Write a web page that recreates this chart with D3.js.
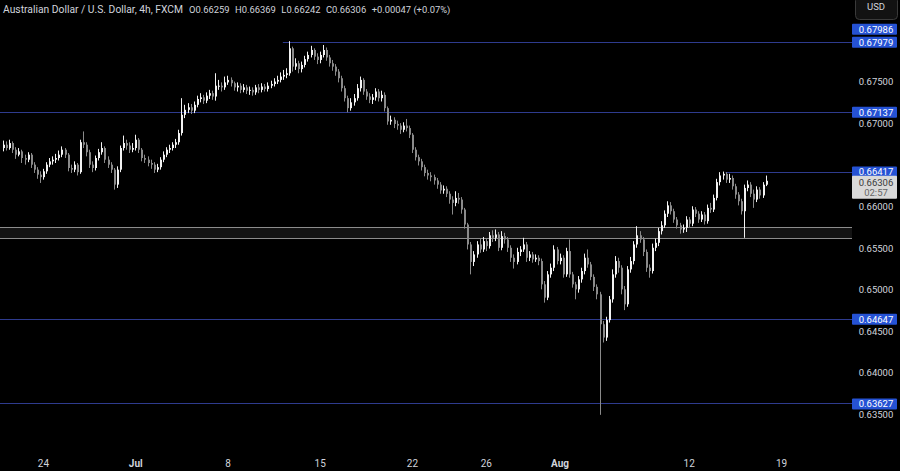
<!DOCTYPE html>
<html><head><meta charset="utf-8">
<script src="https://cdn.jsdelivr.net/npm/d3@7"></script>
<style>html,body{margin:0;padding:0;background:#000;overflow:hidden}svg{display:block}</style>
</head><body><svg id="c" width="900" height="471"></svg>
<script>
// ---- data (AUD/USD 4h candles) ----
const firstOpen = 0.6670;
const closes = [
0.6674,0.6670,0.6676,0.6668,0.6662,0.6666,0.6658,0.6656,0.6662,0.6650,
0.6644,0.6638,0.6635,0.6642,0.6650,0.6654,0.6656,0.6658,0.6662,0.6668,
0.6662,0.6646,0.6644,0.6650,0.6641,0.6677,0.6674,0.6665,0.6650,0.6646,
0.6658,0.6665,0.6670,0.6656,0.6650,0.6644,0.6626,0.6644,0.6670,0.6676,
0.6673,0.6668,0.6670,0.6680,0.6668,0.6658,0.6656,0.6652,0.6650,0.6644,
0.6647,0.6656,0.6662,0.6668,0.6670,0.6674,0.6677,0.6688,0.6710,0.6716,
0.6719,0.6715,0.6722,0.6729,0.6731,0.6727,0.6733,0.6736,0.6732,0.6745,
0.6745,0.6743,0.6749,0.6752,0.6748,0.6743,0.6745,0.6740,0.6743,0.6739,
0.6740,0.6737,0.6743,0.6740,0.6744,0.6741,0.6745,0.6747,0.6750,0.6752,
0.6756,0.6758,0.6760,0.6790,0.6768,0.6772,0.6765,0.6770,0.6777,0.6782,
0.6788,0.6780,0.6776,0.6782,0.6788,0.6779,0.6772,0.6768,0.6762,0.6754,
0.6742,0.6730,0.6718,0.6725,0.6730,0.6742,0.6752,0.6738,0.6732,0.6728,
0.6731,0.6738,0.6730,0.6734,0.6718,0.6702,0.6704,0.6699,0.6697,0.6692,
0.6697,0.6694,0.6686,0.6668,0.6659,0.6654,0.6647,0.6640,0.6637,0.6635,
0.6631,0.6626,0.6619,0.6621,0.6615,0.6608,0.6604,0.6610,0.6608,0.6596,
0.6578,0.6554,0.6533,0.6542,0.6554,0.6548,0.6558,0.6552,0.6565,0.6562,
0.6566,0.6550,0.6564,0.6560,0.6550,0.6538,0.6533,0.6545,0.6548,0.6554,
0.6538,0.6542,0.6536,0.6538,0.6534,0.6506,0.6490,0.6518,0.6526,0.6548,
0.6534,0.6538,0.6518,0.6546,0.6518,0.6506,0.6500,0.6512,0.6522,0.6538,
0.6530,0.6515,0.6503,0.6494,0.6458,0.6442,0.6463,0.6488,0.6518,0.6534,
0.6526,0.6500,0.6482,0.6524,0.6534,0.6554,0.6565,0.6560,0.6545,0.6526,
0.6522,0.6550,0.6556,0.6570,0.6577,0.6591,0.6601,0.6594,0.6584,0.6577,
0.6572,0.6574,0.6584,0.6579,0.6596,0.6591,0.6584,0.6590,0.6582,0.6598,
0.6596,0.6610,0.6629,0.6637,0.6639,0.6632,0.6634,0.6624,0.6614,0.6606,
0.6594,0.6622,0.6626,0.6615,0.6608,0.6620,0.6613,0.66259,0.66306];
const highs = [
.6679,.6678,.6680,.6678,.6671,.6670,.6668,.6662,.6665,.6664,
.6653,.6647,.6642,.6645,.6653,.6658,.6660,.6663,.6667,.6672,
.6670,.6664,.6650,.6654,.6652,.6680,.6690,.6677,.6668,.6654,
.6661,.6669,.6677,.6672,.6660,.6653,.6646,.6648,.6673,.6685,
.6680,.6677,.6676,.6686,.6682,.6670,.6662,.6660,.6656,.6653,
.6651,.6659,.6666,.6671,.6674,.6677,.6681,.6692,.6730,.6722,
.6724,.6723,.6726,.6733,.6736,.6734,.6737,.6740,.6739,.6760,
.6752,.6749,.6756,.6757,.6755,.6750,.6749,.6748,.6747,.6746,
.6744,.6743,.6746,.6747,.6748,.6747,.6749,.6751,.6754,.6757,
.6761,.6764,.6766,.67986,.6792,.6778,.6775,.6774,.6781,.6786,
.6793,.6790,.6784,.6786,.6794,.6791,.6782,.6776,.6771,.6765,
.6757,.6745,.6733,.6730,.6735,.6747,.6756,.6754,.6741,.6736,
.6735,.6742,.6741,.6739,.6737,.6720,.6709,.6707,.6703,.6700,
.6701,.6705,.6697,.6688,.6671,.6662,.6657,.6650,.6644,.6641,
.6638,.6634,.6629,.6625,.6624,.6618,.6612,.6618,.6616,.6611,
.6598,.6580,.6557,.6546,.6558,.6561,.6563,.6561,.6569,.6571,
.6572,.6569,.6570,.6568,.6563,.6553,.6542,.6550,.6552,.6562,
.6557,.6546,.6545,.6542,.6541,.6537,.6510,.6522,.6531,.6553,
.6551,.6543,.6541,.6550,.6560,.6521,.6509,.6516,.6526,.6543,
.6548,.6533,.6518,.6506,.6497,.6462,.6467,.6492,.6524,.6540,
.6538,.6529,.6504,.6528,.6539,.6558,.6576,.6570,.6563,.6548,
.6530,.6555,.6561,.6574,.6582,.6595,.6606,.6605,.6597,.6587,
.6580,.6578,.6588,.6587,.6600,.6599,.6594,.6594,.6593,.6602,
.6604,.6614,.6633,.6641,.66417,.6641,.6639,.6637,.6627,.6617,
.6609,.6626,.6631,.6629,.6620,.6624,.6623,.6629,.66369];
const lows = [
.6666,.6667,.6668,.6664,.6657,.6660,.6652,.6650,.6653,.6646,
.6640,.6633,.6628,.6632,.6639,.6647,.6650,.6652,.6655,.6659,
.6658,.6642,.6640,.6641,.6637,.6639,.6670,.6660,.6646,.6641,
.6643,.6655,.6662,.6652,.6646,.6640,.6620,.6622,.6641,.6667,
.6668,.6664,.6665,.6667,.6664,.6654,.6652,.6648,.6645,.6640,
.6641,.6644,.6653,.6659,.6664,.6667,.6670,.6674,.6685,.6706,
.6712,.6711,.6712,.6719,.6725,.6723,.6724,.6729,.6728,.6727,
.6740,.6738,.6740,.6746,.6744,.6739,.6738,.6736,.6737,.6735,
.6734,.6733,.6734,.6736,.6737,.6738,.6738,.6742,.6744,.6747,
.6749,.6752,.6754,.6757,.6762,.6764,.6760,.6761,.6767,.6774,
.6779,.6776,.6771,.6772,.6779,.6775,.6768,.6763,.6757,.6749,
.6738,.6726,.6713,.6715,.6721,.6727,.6738,.6734,.6728,.6724,
.6723,.6727,.6726,.6726,.6714,.6698,.6698,.6694,.6692,.6687,
.6689,.6690,.6682,.6664,.6655,.6649,.6643,.6636,.6632,.6630,
.6626,.6621,.6615,.6615,.6611,.6603,.6590,.6600,.6603,.6591,
.6573,.6548,.6518,.6528,.6538,.6544,.6545,.6546,.6549,.6557,
.6558,.6546,.6547,.6555,.6545,.6533,.6525,.6530,.6540,.6545,
.6533,.6534,.6532,.6533,.6529,.6500,.6484,.6487,.6514,.6522,
.6530,.6530,.6514,.6515,.6514,.6502,.6488,.6496,.6508,.6518,
.6526,.6511,.6498,.6488,.6349,.6436,.6438,.6460,.6484,.6514,
.6520,.6494,.6475,.6479,.6520,.6530,.6550,.6556,.6540,.6521,
.6514,.6519,.6546,.6552,.6566,.6574,.6587,.6590,.6580,.6573,
.6567,.6568,.6569,.6574,.6576,.6587,.6580,.6581,.6578,.6579,
.6592,.6593,.6607,.6625,.6632,.6628,.6628,.6620,.6609,.6601,
.6590,.6562,.6618,.6611,.6598,.6605,.6609,.6610,.66242];

const dateTickIndex = [13, 43, 73, 103, 133, 157, 181, 223, 253];
const dateTickLabels = ["24", "Jul", "8", "15", "22", "26", "Aug", "12", "19"];
const priceTicks = [0.675, 0.670, 0.660, 0.655, 0.650, 0.645, 0.640, 0.635];
const levelValues = [0.67979, 0.67137, 0.66417, 0.64647, 0.63627];
const levelStartIndex = [91, null, 235, null, null];
const extraHighLabel = 0.67986;
const zoneBounds = [0.65616, 0.65744];
const lastPrice = 0.66306;
const countdown = "02:57";
const titleText = "Australian Dollar / U.S. Dollar, 4h, FXCM";
const ohlcText = ["O0.66259", "H0.66369", "L0.66242", "C0.66306", "+0.00047 (+0.07%)"];

// ---- drawing ----
const W = 900, H = 471, plotRight = 852;
const svg = d3.select("#c");
const FONT = "Roboto, 'Open Sans', sans-serif";
const TXT = "#d1d4dc";

const candles = closes.map((c, i) => ({ i, o: i === 0 ? firstOpen : closes[i - 1], h: highs[i], l: lows[i], c }));

const x = d3.scaleLinear().domain([0, 253]).range([3, 781]);
const y = d3.scaleLinear().domain([0.635, 0.68]).range([414, 40]);
const fmt = d3.format(".5f");

svg.append("rect").attr("width", W).attr("height", H).attr("fill", "#000");

const plot = svg.append("g");

// zone rectangle
plot.append("rect")
  .attr("x", 0).attr("width", plotRight)
  .attr("y", y(zoneBounds[1])).attr("height", y(zoneBounds[0]) - y(zoneBounds[1]))
  .attr("fill", "#131313").attr("stroke", "none");
zoneBounds.forEach(v => {
  plot.append("line").attr("x1", 0).attr("x2", plotRight)
    .attr("y1", Math.round(y(v)) + 0.5).attr("y2", Math.round(y(v)) + 0.5)
    .attr("stroke", "#8c8c8c").attr("stroke-width", 1);
});

// horizontal levels
levelValues.forEach((v, k) => {
  const sx = levelStartIndex[k] == null ? 0 : x(levelStartIndex[k]);
  plot.append("line").attr("x1", sx).attr("x2", plotRight)
    .attr("y1", Math.round(y(v)) + 0.5).attr("y2", Math.round(y(v)) + 0.5)
    .attr("stroke", "#2e3b8e").attr("stroke-width", 1);
});

// candles
const UP = "#f2f2f2", DOWN = "#8a8a8a";
const cg = plot.append("g");
cg.selectAll("line.w").data(candles).join("line")
  .attr("class", "w")
  .attr("x1", d => Math.round(x(d.i)) + 0.5).attr("x2", d => Math.round(x(d.i)) + 0.5)
  .attr("y1", d => y(d.h)).attr("y2", d => y(d.l))
  .attr("stroke", d => d.c >= d.o ? UP : DOWN).attr("stroke-width", 1);
cg.selectAll("rect.b").data(candles).join("rect")
  .attr("class", "b")
  .attr("x", d => Math.round(x(d.i)))
  .attr("width", 2)
  .attr("y", d => y(Math.max(d.o, d.c)))
  .attr("height", d => Math.max(1, Math.abs(y(d.o) - y(d.c))))
  .attr("fill", d => d.c >= d.o ? UP : DOWN);

// price axis labels
const yAxis = d3.axisRight(y).tickValues(priceTicks).tickFormat(fmt).tickSize(0).tickPadding(0);
const ya = svg.append("g").attr("transform", `translate(${876},0)`).call(yAxis);
ya.select(".domain").remove();
ya.selectAll("text").attr("fill", TXT).attr("font-family", FONT).attr("font-size", 9.5)
  .attr("text-anchor", "middle").attr("dy", "0.35em");
ya.selectAll(".tick").filter(d => d === 0.635).attr("transform", `translate(0,${y(0.635) + 1})`);

// date axis
const xAxis = d3.axisBottom(x).tickValues(dateTickIndex)
  .tickFormat((d, k) => dateTickLabels[k]).tickSize(0).tickPadding(0);
const xa = svg.append("g").attr("transform", `translate(0,460)`).call(xAxis);
xa.select(".domain").remove();
xa.selectAll("text").attr("fill", TXT).attr("font-family", FONT).attr("font-size", 10)
  .attr("font-weight", (d, k) => (dateTickLabels[k] === "Jul" || dateTickLabels[k] === "Aug") ? 700 : 400);

// level label boxes
function box(v, cy) {
  const g = svg.append("g");
  g.append("rect").attr("x", 852).attr("y", cy - 5.5).attr("width", 45).attr("height", 11)
    .attr("rx", 1).attr("fill", "#2552d4");
  g.append("text").attr("x", 876).attr("y", cy).attr("dy", "0.36em")
    .attr("text-anchor", "middle").attr("fill", "#ffffff")
    .attr("font-family", FONT).attr("font-size", 9.5).text(fmt(v));
}
box(extraHighLabel, y(levelValues[0]) - 12.5);
levelValues.forEach(v => box(v, y(v) + 0.5));

// last price box
const lp = svg.append("g");
const lpy = y(lastPrice);
lp.append("rect").attr("x", 852).attr("y", lpy - 5).attr("width", 45).attr("height", 23)
  .attr("rx", 1).attr("fill", "#d9d9d9");
lp.append("text").attr("x", 876).attr("y", lpy + 1.5).attr("dy", "0.36em").attr("text-anchor", "middle")
  .attr("fill", "#3a3a3a").attr("font-family", FONT).attr("font-size", 9.5).text(fmt(lastPrice));
lp.append("text").attr("x", 876).attr("y", lpy + 12).attr("dy", "0.36em").attr("text-anchor", "middle")
  .attr("fill", "#666").attr("font-family", FONT).attr("font-size", 9.5).text(countdown);

// USD button
svg.append("rect").attr("x", 855.5).attr("y", -3.5).attr("width", 42).attr("height", 23)
  .attr("rx", 4).attr("fill", "#121212").attr("stroke", "#3a3a3a");
svg.append("text").attr("x", 876).attr("y", 10).attr("text-anchor", "middle")
  .attr("fill", TXT).attr("font-family", FONT).attr("font-size", 9.5).text("USD");

// title / legend (pieces chained left to right)
const tg = svg.append("g").attr("font-family", FONT).attr("fill", TXT);
const tMain = tg.append("text").attr("x", 3).attr("y", 12.5).attr("font-size", 10.3).text(titleText);
let cursor = 189;
ohlcText.forEach(s => {
  const el = tg.append("text").attr("x", cursor).attr("y", 12.5).attr("font-size", 9.4).text(s);
  cursor += el.node().getComputedTextLength() + 5.5;
});
</script>
</body></html>
